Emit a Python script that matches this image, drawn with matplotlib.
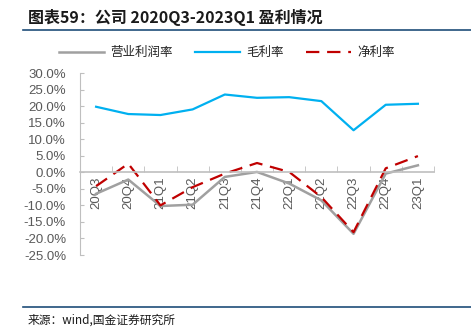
"""Quarterly margin chart, 2020Q3-2023Q1."""
import matplotlib
matplotlib.use("Agg")
import matplotlib.pyplot as plt
from matplotlib.ticker import FixedLocator, FuncFormatter
from matplotlib.lines import Line2D

plt.rcParams["font.family"] = ["Liberation Sans", "Noto Sans CJK SC", "DejaVu Sans"]

quarters = ["20Q3", "20Q4", "21Q1", "21Q2", "21Q3", "21Q4",
            "22Q1", "22Q2", "22Q3", "22Q4", "23Q1"]
op_margin = [-6.5, -2.2, -10.2, -9.8, -1.4, 0.1, -3.4, -8.5, -18.6, -0.4, 2.1]
gross_margin = [19.8, 17.6, 17.3, 19.0, 23.5, 22.5, 22.7, 21.5, 12.7, 20.4, 20.7]
net_margin = [-4.2, 2.6, -10.0, -4.5, -0.4, 2.8, 0.1, -7.5, -18.1, 1.2, 4.9]

GRAY = "#A0A0A0"
BLUE = "#00B0F0"
RED = "#C00000"
TXT = "#595959"
RULE = "#1F4E79"

W, H = 471, 329
fig = plt.figure(figsize=(W / 100, H / 100), dpi=100)
ax = fig.add_axes([80 / W, 1 - 255 / H, 354 / W, 182 / H])

x = range(len(quarters))
ax.plot(x, op_margin, color=GRAY, lw=1.8)
ax.plot(x, gross_margin, color=BLUE, lw=1.6)
ax.plot(x, net_margin, color=RED, lw=1.6, dashes=(6, 3.5))

ax.set_xlim(-0.5, len(quarters) - 0.5)
ax.set_ylim(-25, 30)
ax.yaxis.set_major_locator(FixedLocator(range(-25, 31, 5)))
ax.yaxis.set_major_formatter(FuncFormatter(lambda v, _: f"{v:.1f}%"))

for s in ("top", "right"):
    ax.spines[s].set_visible(False)
ax.spines["left"].set_color("#BFBFBF")
ax.spines["bottom"].set_color("#BFBFBF")
ax.spines["bottom"].set_position(("data", 0))
ax.spines["bottom"].set_linewidth(1.2)

ax.set_xticks(list(x))
ax.set_xticklabels(quarters, rotation=90, va="top", ha="center")
ax.set_xticks([i - 0.5 for i in range(len(quarters) + 1)], minor=True)
ax.tick_params(axis="x", which="major", length=0, pad=3, labelsize=9.5, labelcolor=TXT)
ax.tick_params(axis="x", which="minor", direction="in", length=4, color="#BFBFBF")
ax.tick_params(axis="y", direction="in", length=3, color="#BFBFBF", labelsize=9.5,
               labelcolor=TXT, pad=10)

handles = [Line2D([], [], color=GRAY, lw=1.8),
           Line2D([], [], color=BLUE, lw=1.6),
           Line2D([], [], color=RED, lw=1.6, dashes=(6, 3.5))]
fig.legend(handles, ["营业利润率", "毛利率", "净利率"], loc="center",
           bbox_to_anchor=(227 / W, 1 - 53 / H), ncol=3, frameon=False,
           fontsize=9, handlelength=3.6, columnspacing=1.8, handletextpad=0.5,
           labelcolor="#262626")

fig.text(28 / W, 1 - 17 / H, "图表59：公司 2020Q3-2023Q1 盈利情况", fontsize=11.5,
         fontweight="bold", color="#1A1A1A", va="center", ha="left",
         family=["Noto Sans CJK SC", "DejaVu Sans"])
fig.add_artist(Line2D([23 / W, 1], [1 - 30 / H] * 2, color=RULE, lw=1.2))
fig.add_artist(Line2D([23 / W, 1], [1 - 307 / H] * 2, color=RULE, lw=1.2))
fig.text(28 / W, 1 - 320 / H, "来源：wind,国金证券研究所", fontsize=8.5,
         color="#1A1A1A", va="center", ha="left",
         family=["Noto Sans CJK SC", "DejaVu Sans"])

fig.savefig("out.png", dpi=100)
